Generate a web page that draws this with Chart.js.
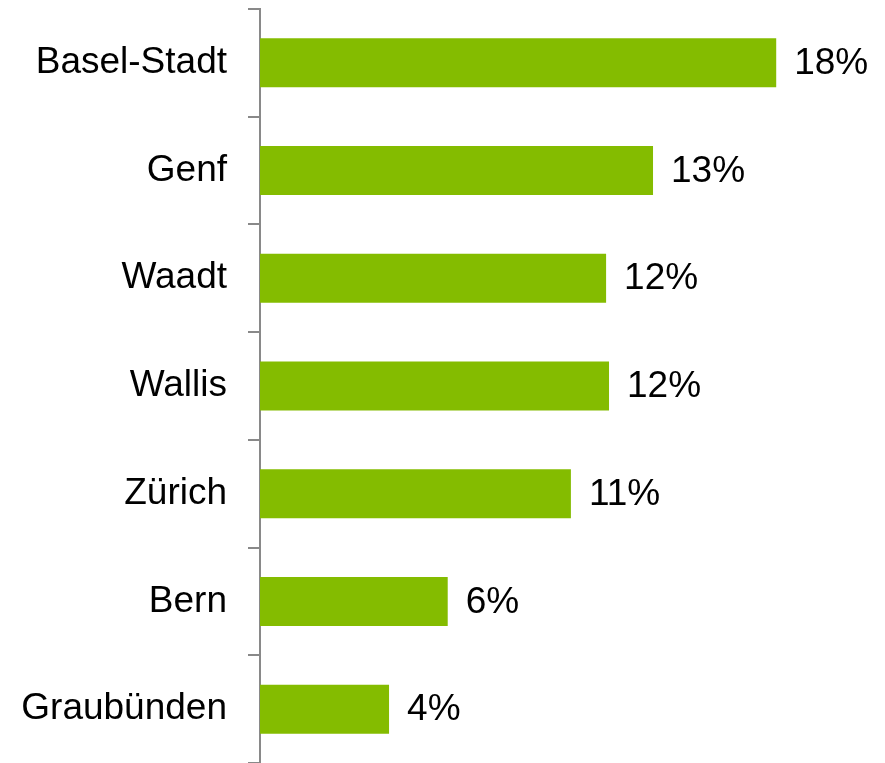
<!DOCTYPE html>
<html>
<head>
<meta charset="utf-8">
<script src="https://cdn.jsdelivr.net/npm/chart.js@4/dist/chart.umd.min.js"></script>
<style>
html,body{margin:0;padding:0;background:#fff;overflow:hidden;}
#wrap{position:relative;width:885px;height:763px;}
</style>
</head>
<body>
<div id="wrap"><canvas id="c"></canvas></div>
<script>
var kantone=['Basel-Stadt','Genf','Waadt','Wallis','Zürich','Bern','Graubünden'];
var anteil=[17.6,13.4,11.8,11.9,10.6,6.4,4.4];
var labels=['18%','13%','12%','12%','11%','6%','4%'];

var valLabels={
  id:'valLabels',
  afterDatasetsDraw:function(chart){
    var ctx=chart.ctx,meta=chart.getDatasetMeta(0);
    ctx.save();
    ctx.font='37px "Liberation Sans", Arial, sans-serif';
    ctx.fillStyle='#000';
    ctx.textAlign='left';ctx.textBaseline='middle';
    meta.data.forEach(function(b,i){ctx.fillText(labels[i],b.x+18,b.y+1);});
    ctx.restore();
  }
};

new Chart(document.getElementById('c'),{
  type:'bar',
  data:{labels:kantone,datasets:[{data:anteil,backgroundColor:'#84bc00',borderWidth:0,barPercentage:0.455,categoryPercentage:1}]},
  options:{
    indexAxis:'y',responsive:true,maintainAspectRatio:false,animation:false,
    layout:{padding:{top:9,right:12,bottom:0,left:0}},
    plugins:{legend:{display:false},tooltip:{enabled:false}},
    scales:{
      x:{display:false,min:0,max:20.9},
      y:{
        afterFit:function(s){s.width=260;s.paddingTop=0;s.paddingBottom=0;},
        border:{color:'#898989',width:2},
        grid:{drawOnChartArea:false,tickLength:12,color:'#898989',lineWidth:2,offset:true},
        ticks:{color:'#000',padding:21,font:{family:'"Liberation Sans", Arial, sans-serif',size:37}}
      }
    }
  },
  plugins:[valLabels]
});
</script>
</body>
</html>
